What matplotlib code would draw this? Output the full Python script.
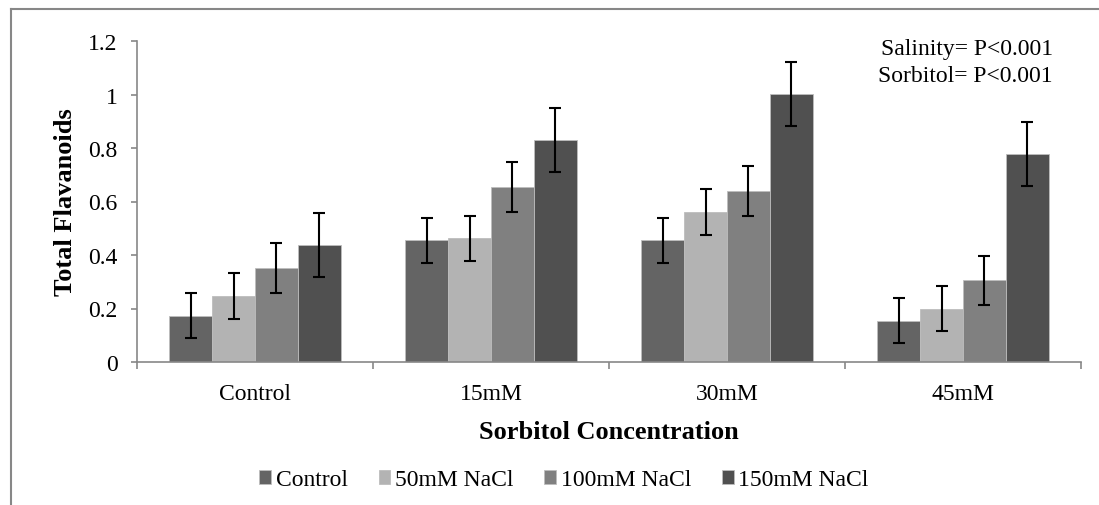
import numpy as np
import matplotlib.pyplot as plt
from matplotlib.lines import Line2D

plt.rcParams['font.family'] = ['Liberation Serif', 'DejaVu Serif']

# data
groups = ["Control", "15mM", "30mM", "45mM"]
series = ["Control", "50mM NaCl", "100mM NaCl", "150mM NaCl"]
ctrl = [0.173, 0.455, 0.455, 0.155]
nacl50 = [0.247, 0.462, 0.560, 0.200]
nacl100 = [0.350, 0.655, 0.638, 0.305]
nacl150 = [0.436, 0.830, 1.002, 0.778]
err_ctrl = [0.084, 0.085, 0.085, 0.083]
err_50 = [0.086, 0.085, 0.087, 0.085]
err_100 = [0.093, 0.093, 0.093, 0.092]
err_150 = [0.120, 0.119, 0.119, 0.119]

colors = ["#646464", "#b3b3b3", "#808080", "#505050"]
values = [ctrl, nacl50, nacl100, nacl150]
errors = [err_ctrl, err_50, err_100, err_150]

fig = plt.figure(figsize=(10.99, 5.06), dpi=100)
ax = fig.add_axes([137/1099, 1-363/506, (1081-137)/1099, 321/506])

x = np.arange(len(groups))
w = 1/5.5
for i, (vals, errs, c) in enumerate(zip(values, errors, colors)):
    pos = x + (i - 1.5)*w
    ax.bar(pos, vals, w, color=c, edgecolor="#bdbdbd", linewidth=0.6,
           label=series[i], zorder=2)
    ax.errorbar(pos, vals, yerr=errs, fmt="none", ecolor="black",
                elinewidth=1.5, capsize=4.5, capthick=1.5, zorder=3)

ax.set_xlim(-0.5, 3.5)
ax.set_ylim(0, 1.2)
ax.set_yticks([0, 0.2, 0.4, 0.6, 0.8, 1.0, 1.2])
ax.set_yticklabels(["0", "0.2", "0.4", "0.6", "0.8", "1", "1.2"])
ax.set_xticks(x)
ax.set_xticklabels(groups)
ax.set_xticks(np.arange(-0.5, 4.0, 1.0), minor=True)
ax.tick_params(axis="x", which="major", length=0, labelsize=17, pad=15)
ax.tick_params(axis="x", which="minor", length=5, color="#878787", width=1.2)
ax.tick_params(axis="y", length=4, color="#878787", width=1.2, labelsize=17, pad=10)

for s in ["top", "right"]:
    ax.spines[s].set_visible(False)
ax.spines["left"].set_color("#878787")
ax.spines["bottom"].set_color("#878787")
ax.spines["left"].set_linewidth(1.2)
ax.spines["bottom"].set_linewidth(1.2)

ax.set_ylabel("Total Flavanoids", fontsize=19, fontweight="bold", va="center")
ax.yaxis.set_label_coords((65-137)/944, 0.5)
ax.set_xlabel("Sorbitol Concentration", fontsize=19, fontweight="bold", va="center")
ax.xaxis.set_label_coords(0.5, (363-433)/321)

fig.text(1053/1099, 1-55/506, "Salinity= P<0.001", ha="right", va="baseline", fontsize=17)
fig.text(1053/1099, 1-82/506, "Sorbitol= P<0.001", ha="right", va="baseline", fontsize=17)

leg = fig.legend(loc="center", bbox_to_anchor=(564/1099, 1-481/506), ncol=4,
                 frameon=False, fontsize=17, handlelength=0.5, handleheight=0.5,
                 handletextpad=0.2, columnspacing=1.3, borderpad=0)

# outer chart border (left and top only visible)
fig.add_artist(Line2D([11/1099, 11/1099], [0, 1-10/506], transform=fig.transFigure,
                      color="#878787", linewidth=1.5))
fig.add_artist(Line2D([11/1099, 1], [1-10/506, 1-10/506], transform=fig.transFigure,
                      color="#878787", linewidth=1.5))

fig.savefig("out.png", dpi=100)
